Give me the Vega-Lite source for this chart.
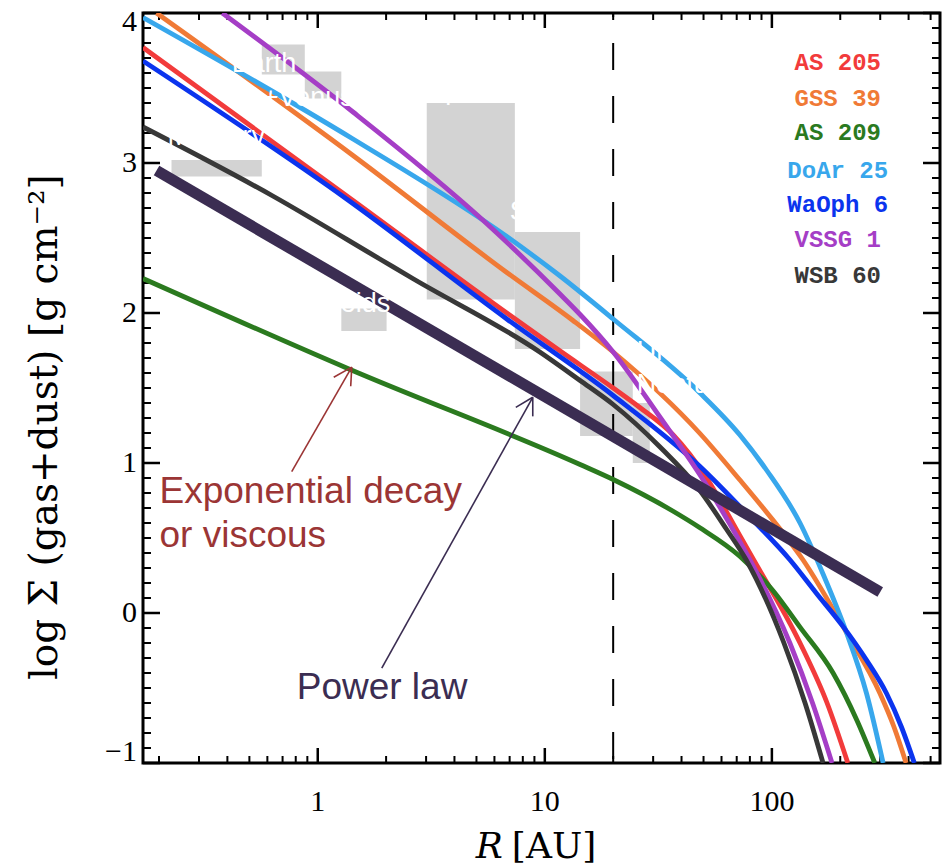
{
  "$schema": "https://vega.github.io/schema/vega-lite/v6.json",
  "width": 797,
  "height": 750,
  "autosize": {"type": "none"},
  "padding": {"left": 143, "top": 13, "right": 4, "bottom": 103},
  "background": "white",
  "config": {
    "view": {"stroke": "black", "strokeWidth": 3},
    "axis": {"domain": false, "grid": false, "ticks": false, "labelColor": "black", "titleColor": "black"}
  },
  "datasets": {
    "boxes": [
      {"body": "Mercury", "x1": 0.227, "x2": 0.567, "y1": 2.91, "y2": 3.02},
      {"body": "Venus", "x1": 0.567, "x2": 0.877, "y1": 3.59, "y2": 3.79},
      {"body": "Earth", "x1": 0.877, "x2": 1.27, "y1": 3.43, "y2": 3.61},
      {"body": "Asteroids", "x1": 1.27, "x2": 2.01, "y1": 1.88, "y2": 2.03},
      {"body": "Jupiter", "x1": 3.02, "x2": 7.38, "y1": 2.09, "y2": 3.4},
      {"body": "Saturn", "x1": 7.38, "x2": 14.3, "y1": 1.76, "y2": 2.54},
      {"body": "Uranus", "x1": 14.3, "x2": 24.4, "y1": 1.18, "y2": 1.61},
      {"body": "Neptune", "x1": 24.4, "x2": 29.0, "y1": 1.0, "y2": 1.4}
    ],
    "xticks": [
      {"v": 0.2, "major": false}, {"v": 0.3, "major": false}, {"v": 0.4, "major": false}, {"v": 0.5, "major": false},
      {"v": 0.6, "major": false}, {"v": 0.7, "major": false}, {"v": 0.8, "major": false}, {"v": 0.9, "major": false},
      {"v": 1, "major": true},
      {"v": 2, "major": false}, {"v": 3, "major": false}, {"v": 4, "major": false}, {"v": 5, "major": false},
      {"v": 6, "major": false}, {"v": 7, "major": false}, {"v": 8, "major": false}, {"v": 9, "major": false},
      {"v": 10, "major": true},
      {"v": 20, "major": false}, {"v": 30, "major": false}, {"v": 40, "major": false}, {"v": 50, "major": false},
      {"v": 60, "major": false}, {"v": 70, "major": false}, {"v": 80, "major": false}, {"v": 90, "major": false},
      {"v": 100, "major": true},
      {"v": 200, "major": false}, {"v": 300, "major": false}, {"v": 400, "major": false}, {"v": 500, "major": false}
    ],
    "yticks": [
      {"v": -1, "major": true}, {"v": -0.9, "major": false}, {"v": -0.8, "major": false}, {"v": -0.7, "major": false}, {"v": -0.6, "major": false}, {"v": -0.5, "major": false}, {"v": -0.4, "major": false}, {"v": -0.3, "major": false}, {"v": -0.2, "major": false}, {"v": -0.1, "major": false},
      {"v": 0, "major": true}, {"v": 0.1, "major": false}, {"v": 0.2, "major": false}, {"v": 0.3, "major": false}, {"v": 0.4, "major": false}, {"v": 0.5, "major": false}, {"v": 0.6, "major": false}, {"v": 0.7, "major": false}, {"v": 0.8, "major": false}, {"v": 0.9, "major": false},
      {"v": 1, "major": true}, {"v": 1.1, "major": false}, {"v": 1.2, "major": false}, {"v": 1.3, "major": false}, {"v": 1.4, "major": false}, {"v": 1.5, "major": false}, {"v": 1.6, "major": false}, {"v": 1.7, "major": false}, {"v": 1.8, "major": false}, {"v": 1.9, "major": false},
      {"v": 2, "major": true}, {"v": 2.1, "major": false}, {"v": 2.2, "major": false}, {"v": 2.3, "major": false}, {"v": 2.4, "major": false}, {"v": 2.5, "major": false}, {"v": 2.6, "major": false}, {"v": 2.7, "major": false}, {"v": 2.8, "major": false}, {"v": 2.9, "major": false},
      {"v": 3, "major": true}, {"v": 3.1, "major": false}, {"v": 3.2, "major": false}, {"v": 3.3, "major": false}, {"v": 3.4, "major": false}, {"v": 3.5, "major": false}, {"v": 3.6, "major": false}, {"v": 3.7, "major": false}, {"v": 3.8, "major": false}, {"v": 3.9, "major": false},
      {"v": 4, "major": true}
    ],
    "xlabels": [{"v": 1, "t": "1"}, {"v": 10, "t": "10"}, {"v": 100, "t": "100"}],
    "ylabels": [
      {"v": -1, "t": "−1", "pos": "bottom"}, {"v": 0, "t": "0", "pos": "mid"}, {"v": 1, "t": "1", "pos": "mid"},
      {"v": 2, "t": "2", "pos": "mid"}, {"v": 3, "t": "3", "pos": "mid"}, {"v": 4, "t": "4", "pos": "top"}
    ],
    "titles": [
      {"label": "R", "R": 6.53, "y": -1.56, "part": "R"},
      {"label": "[AU]", "R": 7.16, "y": -1.56, "part": "AU"}
    ],
    "ytitle": [{"label": "log Σ (gas+dust) [g cm⁻²]", "R": 0.0627, "y": 1.24}],
    "dashed": [{"R": 20, "ylo": -1, "yhi": 4}],
    "curves": [
      {"name": "AS 205", "R": 0.17, "y": 3.77},
      {"name": "AS 205", "R": 1.43, "y": 2.75},
      {"name": "AS 205", "R": 6.8, "y": 2.0},
      {"name": "AS 205", "R": 11.6, "y": 1.75},
      {"name": "AS 205", "R": 20, "y": 1.5},
      {"name": "AS 205", "R": 26.2, "y": 1.37},
      {"name": "AS 205", "R": 36.6, "y": 1.19},
      {"name": "AS 205", "R": 51.6, "y": 0.9},
      {"name": "AS 205", "R": 72, "y": 0.52},
      {"name": "AS 205", "R": 82, "y": 0.37},
      {"name": "AS 205", "R": 133, "y": -0.2},
      {"name": "AS 205", "R": 175, "y": -0.6},
      {"name": "AS 205", "R": 216, "y": -1.0},
      {"name": "GSS 39", "R": 0.195, "y": 4.0},
      {"name": "GSS 39", "R": 1.43, "y": 3.05},
      {"name": "GSS 39", "R": 6.8, "y": 2.27},
      {"name": "GSS 39", "R": 13.3, "y": 1.95},
      {"name": "GSS 39", "R": 20, "y": 1.74},
      {"name": "GSS 39", "R": 48, "y": 1.2},
      {"name": "GSS 39", "R": 72, "y": 0.89},
      {"name": "GSS 39", "R": 95, "y": 0.67},
      {"name": "GSS 39", "R": 137, "y": 0.355},
      {"name": "GSS 39", "R": 213, "y": -0.13},
      {"name": "GSS 39", "R": 299, "y": -0.535},
      {"name": "GSS 39", "R": 345, "y": -0.76},
      {"name": "GSS 39", "R": 390, "y": -1.0},
      {"name": "AS 209", "R": 0.17, "y": 2.23},
      {"name": "AS 209", "R": 1.38, "y": 1.625},
      {"name": "AS 209", "R": 14.3, "y": 0.99},
      {"name": "AS 209", "R": 20, "y": 0.89},
      {"name": "AS 209", "R": 36.6, "y": 0.68},
      {"name": "AS 209", "R": 48, "y": 0.57},
      {"name": "AS 209", "R": 72, "y": 0.38},
      {"name": "AS 209", "R": 101, "y": 0.15},
      {"name": "AS 209", "R": 133, "y": -0.094},
      {"name": "AS 209", "R": 186, "y": -0.4},
      {"name": "AS 209", "R": 237, "y": -0.716},
      {"name": "AS 209", "R": 284, "y": -1.0},
      {"name": "DoAr 25", "R": 0.17, "y": 3.97},
      {"name": "DoAr 25", "R": 1.43, "y": 3.16},
      {"name": "DoAr 25", "R": 6.8, "y": 2.51},
      {"name": "DoAr 25", "R": 11.6, "y": 2.25},
      {"name": "DoAr 25", "R": 20, "y": 1.96},
      {"name": "DoAr 25", "R": 48, "y": 1.47},
      {"name": "DoAr 25", "R": 72, "y": 1.19},
      {"name": "DoAr 25", "R": 95, "y": 0.95},
      {"name": "DoAr 25", "R": 133, "y": 0.6},
      {"name": "DoAr 25", "R": 168, "y": 0.26},
      {"name": "DoAr 25", "R": 213, "y": -0.13},
      {"name": "DoAr 25", "R": 261, "y": -0.535},
      {"name": "DoAr 25", "R": 309, "y": -1.0},
      {"name": "WaOph 6", "R": 0.17, "y": 3.68},
      {"name": "WaOph 6", "R": 1.34, "y": 2.76},
      {"name": "WaOph 6", "R": 6.8, "y": 1.96},
      {"name": "WaOph 6", "R": 20, "y": 1.45},
      {"name": "WaOph 6", "R": 48, "y": 0.98},
      {"name": "WaOph 6", "R": 80, "y": 0.64},
      {"name": "WaOph 6", "R": 120, "y": 0.355},
      {"name": "WaOph 6", "R": 157, "y": 0.132},
      {"name": "WaOph 6", "R": 206, "y": -0.091},
      {"name": "WaOph 6", "R": 261, "y": -0.314},
      {"name": "WaOph 6", "R": 320, "y": -0.537},
      {"name": "WaOph 6", "R": 372, "y": -0.76},
      {"name": "WaOph 6", "R": 424, "y": -1.0},
      {"name": "VSSG 1", "R": 0.38, "y": 4.0},
      {"name": "VSSG 1", "R": 1.43, "y": 3.34},
      {"name": "VSSG 1", "R": 5.33, "y": 2.62},
      {"name": "VSSG 1", "R": 11.6, "y": 2.13},
      {"name": "VSSG 1", "R": 14.3, "y": 1.99},
      {"name": "VSSG 1", "R": 20, "y": 1.74},
      {"name": "VSSG 1", "R": 32, "y": 1.31},
      {"name": "VSSG 1", "R": 49.7, "y": 0.89},
      {"name": "VSSG 1", "R": 72, "y": 0.48},
      {"name": "VSSG 1", "R": 80, "y": 0.355},
      {"name": "VSSG 1", "R": 120, "y": -0.2},
      {"name": "VSSG 1", "R": 151, "y": -0.6},
      {"name": "VSSG 1", "R": 184, "y": -1.0},
      {"name": "WSB 60", "R": 0.17, "y": 3.24},
      {"name": "WSB 60", "R": 0.634, "y": 2.78},
      {"name": "WSB 60", "R": 1.876, "y": 2.36},
      {"name": "WSB 60", "R": 2.62, "y": 2.23},
      {"name": "WSB 60", "R": 9.5, "y": 1.74},
      {"name": "WSB 60", "R": 14.3, "y": 1.55},
      {"name": "WSB 60", "R": 20, "y": 1.39},
      {"name": "WSB 60", "R": 32, "y": 1.11},
      {"name": "WSB 60", "R": 48, "y": 0.82},
      {"name": "WSB 60", "R": 63, "y": 0.56},
      {"name": "WSB 60", "R": 77, "y": 0.355},
      {"name": "WSB 60", "R": 113, "y": -0.2},
      {"name": "WSB 60", "R": 140, "y": -0.6},
      {"name": "WSB 60", "R": 168, "y": -1.0}
    ],
    "power": [{"R": 0.195, "y": 2.95}, {"R": 300, "y": 0.14}],
    "legend": [
      {"name": "AS 205", "R": 195, "y": 3.67},
      {"name": "GSS 39", "R": 195, "y": 3.43},
      {"name": "AS 209", "R": 195, "y": 3.2},
      {"name": "DoAr 25", "R": 195, "y": 2.95},
      {"name": "WaOph 6", "R": 195, "y": 2.72},
      {"name": "VSSG 1", "R": 195, "y": 2.49},
      {"name": "WSB 60", "R": 195, "y": 2.25}
    ],
    "planets": [
      {"label": "Mercury", "R": 0.218, "y": 3.12},
      {"label": "Earth", "R": 0.418, "y": 3.61},
      {"label": "+Venus", "R": 0.573, "y": 3.38},
      {"label": "Asteroids", "R": 0.667, "y": 2.01},
      {"label": "Jupiter", "R": 2.73, "y": 3.43},
      {"label": "Saturn", "R": 7.01, "y": 2.62},
      {"label": "Uranus", "R": 25.4, "y": 1.69},
      {"label": "Neptune", "R": 25.4, "y": 1.47}
    ],
    "arrows": [
      {"g": "exp", "R": 0.768, "y": 0.943, "R2": 1.412, "y2": 1.639},
      {"g": "exp", "R": 1.176, "y": 1.572, "R2": 1.412, "y2": 1.639},
      {"g": "exp", "R": 1.397, "y": 1.512, "R2": 1.412, "y2": 1.639},
      {"g": "pow", "R": 1.914, "y": -0.368, "R2": 8.85, "y2": 1.438},
      {"g": "pow", "R": 7.45, "y": 1.371, "R2": 8.85, "y2": 1.438},
      {"g": "pow", "R": 8.85, "y": 1.311, "R2": 8.85, "y2": 1.438}
    ],
    "notes": [
      {"g": "exp", "label": "Exponential decay", "R": 0.201, "y": 0.736},
      {"g": "exp", "label": "or viscous", "R": 0.201, "y": 0.441},
      {"g": "pow", "label": "Power law", "R": 0.808, "y": -0.575}
    ]
  },
  "layer": [
    {
      "data": {"name": "boxes"},
      "mark": {"type": "rect", "color": "#d3d3d3"},
      "encoding": {
        "x": {"field": "x1", "type": "quantitative",
              "scale": {"type": "log", "domain": [0.17, 550], "nice": false}, "axis": null},
        "x2": {"field": "x2"},
        "y": {"field": "y1", "type": "quantitative",
              "scale": {"domain": [-1, 4], "nice": false}, "axis": null},
        "y2": {"field": "y2"}
      }
    },
    {
      "data": {"name": "xticks"},
      "transform": [{"filter": "!datum.major"}],
      "layer": [
        {"mark": {"type": "rule", "color": "black", "strokeWidth": 2, "y2Offset": -7},
         "encoding": {"x": {"field": "v", "type": "quantitative", "axis": null}, "y": {"datum": -1, "axis": null}, "y2": {"datum": -1}}},
        {"mark": {"type": "rule", "color": "black", "strokeWidth": 2, "y2Offset": 7},
         "encoding": {"x": {"field": "v", "type": "quantitative", "axis": null}, "y": {"datum": 4, "axis": null}, "y2": {"datum": 4}}}
      ]
    },
    {
      "data": {"name": "xticks"},
      "transform": [{"filter": "datum.major"}],
      "layer": [
        {"mark": {"type": "rule", "color": "black", "strokeWidth": 2.5, "y2Offset": -15},
         "encoding": {"x": {"field": "v", "type": "quantitative", "axis": null}, "y": {"datum": -1, "axis": null}, "y2": {"datum": -1}}},
        {"mark": {"type": "rule", "color": "black", "strokeWidth": 2.5, "y2Offset": 15},
         "encoding": {"x": {"field": "v", "type": "quantitative", "axis": null}, "y": {"datum": 4, "axis": null}, "y2": {"datum": 4}}}
      ]
    },
    {
      "data": {"name": "yticks"},
      "transform": [{"filter": "!datum.major"}],
      "layer": [
        {"mark": {"type": "rule", "color": "black", "strokeWidth": 2, "x2Offset": 8},
         "encoding": {"y": {"field": "v", "type": "quantitative", "axis": null}, "x": {"datum": 0.17, "axis": null}, "x2": {"datum": 0.17}}},
        {"mark": {"type": "rule", "color": "black", "strokeWidth": 2, "x2Offset": -8},
         "encoding": {"y": {"field": "v", "type": "quantitative", "axis": null}, "x": {"datum": 550, "axis": null}, "x2": {"datum": 550}}}
      ]
    },
    {
      "data": {"name": "yticks"},
      "transform": [{"filter": "datum.major"}],
      "layer": [
        {"mark": {"type": "rule", "color": "black", "strokeWidth": 2.5, "x2Offset": 17},
         "encoding": {"y": {"field": "v", "type": "quantitative", "axis": null}, "x": {"datum": 0.17, "axis": null}, "x2": {"datum": 0.17}}},
        {"mark": {"type": "rule", "color": "black", "strokeWidth": 2.5, "x2Offset": -17},
         "encoding": {"y": {"field": "v", "type": "quantitative", "axis": null}, "x": {"datum": 550, "axis": null}, "x2": {"datum": 550}}}
      ]
    },
    {
      "data": {"name": "dashed"},
      "mark": {"type": "rule", "color": "black", "strokeWidth": 2, "strokeDash": [27, 26], "strokeDashOffset": 23},
      "encoding": {
        "x": {"field": "R", "type": "quantitative", "axis": null},
        "y": {"field": "yhi", "type": "quantitative", "axis": null},
        "y2": {"field": "ylo"}
      }
    },
    {
      "data": {"name": "curves"},
      "mark": {"type": "line", "strokeWidth": 4.8, "interpolate": "monotone", "clip": true},
      "encoding": {
        "x": {"field": "R", "type": "quantitative", "axis": null},
        "y": {"field": "y", "type": "quantitative", "axis": null},
        "color": {"field": "name", "type": "nominal",
                  "scale": {"domain": ["AS 205", "GSS 39", "AS 209", "DoAr 25", "WaOph 6", "VSSG 1", "WSB 60"],
                            "range": ["#f23b3b", "#f07a36", "#2b7a1f", "#38a7ec", "#0b34ee", "#a53ec6", "#383838"]},
                  "legend": null}
      }
    },
    {
      "data": {"name": "power"},
      "mark": {"type": "line", "strokeWidth": 11, "color": "#3b2d52", "strokeCap": "butt"},
      "encoding": {
        "x": {"field": "R", "type": "quantitative", "axis": null},
        "y": {"field": "y", "type": "quantitative", "axis": null}
      }
    },
    {
      "data": {"name": "planets"},
      "mark": {"type": "text", "color": "white", "font": "Liberation Sans", "fontSize": 27, "align": "left", "baseline": "alphabetic"},
      "encoding": {
        "x": {"field": "R", "type": "quantitative", "axis": null},
        "y": {"field": "y", "type": "quantitative", "axis": null},
        "text": {"field": "label"}
      }
    },
    {
      "data": {"name": "arrows"},
      "mark": {"type": "rule", "strokeWidth": 1.6},
      "encoding": {
        "x": {"field": "R", "type": "quantitative", "axis": null},
        "y": {"field": "y", "type": "quantitative", "axis": null},
        "x2": {"field": "R2"},
        "y2": {"field": "y2"},
        "color": {"condition": {"test": "datum.g === 'exp'", "value": "#9b3535"}, "value": "#3b2d52"}
      }
    },
    {
      "data": {"name": "notes"},
      "mark": {"type": "text", "font": "Liberation Sans", "fontSize": 37, "align": "left", "baseline": "alphabetic"},
      "encoding": {
        "x": {"field": "R", "type": "quantitative", "axis": null},
        "y": {"field": "y", "type": "quantitative", "axis": null},
        "text": {"field": "label"},
        "color": {"condition": {"test": "datum.g === 'exp'", "value": "#9b3535"}, "value": "#3b2d52"}
      }
    },
    {
      "data": {"name": "legend"},
      "mark": {"type": "text", "font": "Liberation Mono", "fontWeight": "bold", "fontSize": 24, "align": "center", "baseline": "middle"},
      "encoding": {
        "x": {"field": "R", "type": "quantitative", "axis": null},
        "y": {"field": "y", "type": "quantitative", "axis": null},
        "text": {"field": "name"},
        "color": {"field": "name", "type": "nominal", "legend": null}
      }
    },
    {
      "data": {"name": "xlabels"},
      "mark": {"type": "text", "font": "Liberation Serif", "fontSize": 30, "color": "black", "align": "center", "baseline": "top", "dy": 24},
      "encoding": {
        "x": {"field": "v", "type": "quantitative", "axis": null},
        "y": {"datum": -1, "axis": null},
        "text": {"field": "t"}
      }
    },
    {
      "data": {"name": "ylabels"},
      "transform": [{"filter": "datum.pos == 'mid'"}],
      "mark": {"type": "text", "font": "Liberation Serif", "fontSize": 30, "color": "black", "align": "right", "baseline": "middle", "dx": -6},
      "encoding": {
        "x": {"datum": 0.17, "axis": null},
        "y": {"field": "v", "type": "quantitative", "axis": null},
        "text": {"field": "t"}
      }
    },
    {
      "data": {"name": "ylabels"},
      "transform": [{"filter": "datum.pos == 'top'"}],
      "mark": {"type": "text", "font": "Liberation Serif", "fontSize": 30, "color": "black", "align": "right", "baseline": "top", "dx": -6, "dy": -6},
      "encoding": {
        "x": {"datum": 0.17, "axis": null},
        "y": {"field": "v", "type": "quantitative", "axis": null},
        "text": {"field": "t"}
      }
    },
    {
      "data": {"name": "ylabels"},
      "transform": [{"filter": "datum.pos == 'bottom'"}],
      "mark": {"type": "text", "font": "Liberation Serif", "fontSize": 30, "color": "black", "align": "right", "baseline": "bottom", "dx": -6, "dy": 4},
      "encoding": {
        "x": {"datum": 0.17, "axis": null},
        "y": {"field": "v", "type": "quantitative", "axis": null},
        "text": {"field": "t"}
      }
    },
    {
      "data": {"name": "titles"},
      "transform": [{"filter": "datum.part == 'R'"}],
      "mark": {"type": "text", "font": "DejaVu Serif", "fontStyle": "italic", "fontSize": 36, "color": "black", "align": "right", "baseline": "middle"},
      "encoding": {
        "x": {"field": "R", "type": "quantitative", "axis": null},
        "y": {"field": "y", "type": "quantitative", "axis": null},
        "text": {"field": "label"}
      }
    },
    {
      "data": {"name": "titles"},
      "transform": [{"filter": "datum.part == 'AU'"}],
      "mark": {"type": "text", "font": "DejaVu Serif", "fontSize": 36, "color": "black", "align": "left", "baseline": "middle"},
      "encoding": {
        "x": {"field": "R", "type": "quantitative", "axis": null},
        "y": {"field": "y", "type": "quantitative", "axis": null},
        "text": {"field": "label"}
      }
    },
    {
      "data": {"name": "ytitle"},
      "mark": {"type": "text", "font": "DejaVu Serif", "fontSize": 39, "color": "black", "align": "center", "baseline": "middle", "angle": 270},
      "encoding": {
        "x": {"field": "R", "type": "quantitative", "axis": null},
        "y": {"field": "y", "type": "quantitative", "axis": null},
        "text": {"field": "label"}
      }
    }
  ]
}
